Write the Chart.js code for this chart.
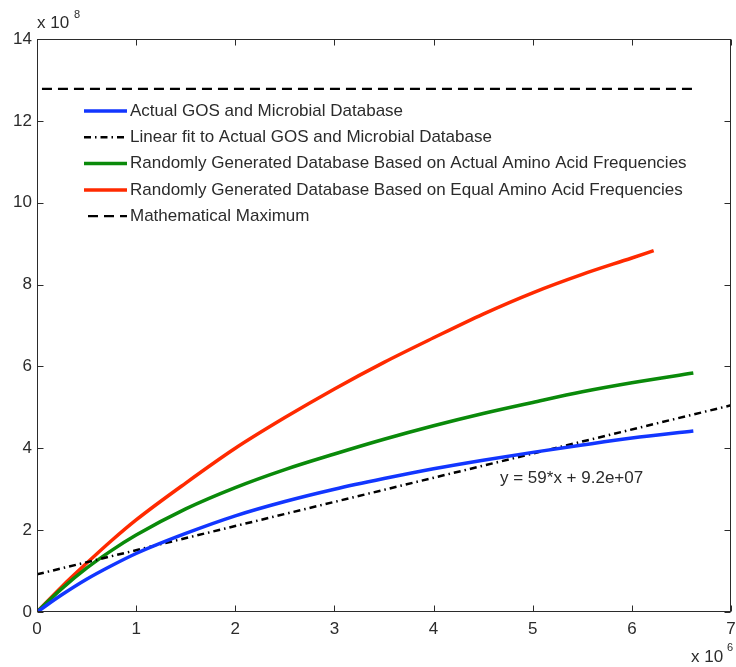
<!DOCTYPE html>
<html lang="en">
<head>
<meta charset="UTF-8">
<title>Database growth</title>
<script src="https://cdn.jsdelivr.net/npm/chart.js"></script>
<style>
  body { margin: 0; background: #fff; }
  #wrap { width: 736px; height: 667px; }
</style>
</head>
<body>
<div id="wrap"><canvas id="growthChart" width="736" height="667"></canvas></div>
<script>
// x in units of 1e6, y in units of 1e8
var xTicks = [0, 1, 2, 3, 4, 5, 6, 7];
var yTicks = [0, 2, 4, 6, 8, 10, 12, 14];

var seriesLabels = [
  'Actual GOS and Microbial Database',
  'Linear fit to Actual GOS and Microbial Database',
  'Randomly Generated Database Based on Actual Amino Acid Frequencies',
  'Randomly Generated Database Based on Equal Amino Acid Frequencies',
  'Mathematical Maximum'
];

var xActual = [0, 0.25, 0.5, 0.75, 1, 1.5, 2, 2.5, 3, 3.5, 4, 4.5, 5, 5.5, 6, 6.62];
var actualDb = [0, 0.42, 0.8, 1.13, 1.43, 1.92, 2.35, 2.7, 3.0, 3.26, 3.5, 3.71, 3.9, 4.08, 4.25, 4.42];

var xFit = [0, 7];
var fitLine = [0.92, 5.05];

var xRandActual = [0, 0.25, 0.5, 0.75, 1, 1.5, 2, 2.5, 3, 3.5, 4, 4.5, 5, 5.5, 6, 6.62];
var randActual = [0, 0.57, 1.07, 1.5, 1.88, 2.52, 3.04, 3.48, 3.86, 4.22, 4.55, 4.85, 5.12, 5.38, 5.6, 5.84];

var xRandEqual = [0, 0.25, 0.5, 0.75, 1, 1.5, 2, 2.5, 3, 3.5, 4, 4.5, 5, 5.5, 6, 6.22];
var randEqual = [0, 0.62, 1.19, 1.74, 2.25, 3.15, 4.0, 4.75, 5.45, 6.1, 6.7, 7.28, 7.8, 8.25, 8.65, 8.83];

var xMax = [0.05, 6.62];
var mathMax = [12.78, 12.78];

function toPoints(xs, ys) {
  return xs.map(function (x, i) { return { x: x, y: ys[i] }; });
}

var FONT = "'Liberation Sans', Arial, sans-serif";
var INK = '#2b2b2b';

// MATLAB-like box, inward ticks, legend and labels
var matlabDecor = {
  id: 'matlabDecor',
  afterDraw: function (chart) {
    var ctx = chart.ctx;
    var a = chart.chartArea;
    var xs = chart.scales.x, ys = chart.scales.y;
    var L = Math.round(a.left) + 0.5, R = Math.round(a.right) - 0.5;
    var T = Math.round(a.top) + 0.5, B = Math.round(a.bottom) - 0.5;
    ctx.save();
    ctx.strokeStyle = INK;
    ctx.lineWidth = 1;
    ctx.setLineDash([]);
    ctx.strokeRect(L, T, R - L, B - T);
    ctx.beginPath();
    xTicks.forEach(function (v) {
      var p = Math.round(xs.getPixelForValue(v)) + 0.5;
      ctx.moveTo(p, B); ctx.lineTo(p, B - 6);
      ctx.moveTo(p, T); ctx.lineTo(p, T + 6);
    });
    yTicks.forEach(function (v) {
      var p = Math.round(ys.getPixelForValue(v)) + 0.5;
      ctx.moveTo(L, p); ctx.lineTo(L + 6, p);
      ctx.moveTo(R, p); ctx.lineTo(R - 6, p);
    });
    ctx.stroke();

    // legend
    ctx.font = '17px ' + FONT;
    ctx.textBaseline = 'middle';
    ctx.textAlign = 'left';
    chart.data.datasets.forEach(function (ds, i) {
      var y = 111 + 26.3 * i;
      var x0 = ds.legendStart || 84;
      ctx.beginPath();
      ctx.strokeStyle = ds.borderColor;
      ctx.lineWidth = ds.borderWidth;
      ctx.setLineDash(ds.borderDash || []);
      ctx.moveTo(x0, y); ctx.lineTo(127, y);
      ctx.stroke();
      ctx.fillStyle = INK;
      ctx.fillText(ds.label, 130, y);
    });
    ctx.setLineDash([]);

    // exponent labels
    ctx.fillStyle = INK;
    ctx.textBaseline = 'alphabetic';
    ctx.font = '17px ' + FONT;
    ctx.fillText('x 10', 37, 28);
    ctx.font = '11px ' + FONT;
    ctx.fillText('8', 74, 18);
    ctx.font = '17px ' + FONT;
    ctx.fillText('x 10', 691, 662);
    ctx.font = '11px ' + FONT;
    ctx.fillText('6', 727, 651);

    // fit equation
    ctx.font = '17px ' + FONT;
    ctx.textBaseline = 'middle';
    ctx.fillText('y = 59*x + 9.2e+07', xs.getPixelForValue(4.67), ys.getPixelForValue(3.27));
    ctx.restore();
  }
};

var ctx = document.getElementById('growthChart').getContext('2d');
var chart = new Chart(ctx, {
  type: 'line',
  data: {
    datasets: [{
      label: seriesLabels[0],
      data: toPoints(xActual, actualDb),
      borderColor: '#1236ff',
      borderWidth: 3.5,
      cubicInterpolationMode: 'monotone'
    }, {
      label: seriesLabels[1],
      data: toPoints(xFit, fitLine),
      borderColor: '#000000',
      borderWidth: 2.5,
      borderDash: [7, 4, 1.5, 4]
    }, {
      label: seriesLabels[2],
      data: toPoints(xRandActual, randActual),
      borderColor: '#0a8a0a',
      borderWidth: 3.5,
      cubicInterpolationMode: 'monotone'
    }, {
      label: seriesLabels[3],
      data: toPoints(xRandEqual, randEqual),
      borderColor: '#ff2a00',
      borderWidth: 3.5,
      cubicInterpolationMode: 'monotone'
    }, {
      label: seriesLabels[4],
      data: toPoints(xMax, mathMax),
      borderColor: '#000000',
      borderWidth: 2.2,
      borderDash: [10, 6],
      legendStart: 88
    }]
  },
  options: {
    responsive: false,
    animation: false,
    devicePixelRatio: 1,
    layout: { padding: { top: 39, right: 5, left: 0, bottom: 0 } },
    elements: { point: { radius: 0 } },
    plugins: {
      legend: { display: false },
      tooltip: { enabled: false }
    },
    scales: {
      x: {
        type: 'linear',
        min: 0,
        max: 7,
        ticks: {
          stepSize: 1,
          color: INK,
          padding: 7,
          font: { family: FONT, size: 17 }
        },
        grid: { drawOnChartArea: false, drawTicks: false },
        border: { display: false },
        afterFit: function (s) {
          s.height = 55;
          s.paddingLeft = 0;
          s.paddingRight = 0;
        }
      },
      y: {
        min: 0,
        max: 14,
        ticks: {
          stepSize: 2,
          color: INK,
          padding: 5,
          font: { family: FONT, size: 17 }
        },
        grid: { drawOnChartArea: false, drawTicks: false },
        border: { display: false },
        afterFit: function (s) {
          s.width = 37;
          s.paddingTop = 0;
          s.paddingBottom = 0;
        }
      }
    }
  },
  plugins: [matlabDecor]
});
</script>
</body>
</html>
